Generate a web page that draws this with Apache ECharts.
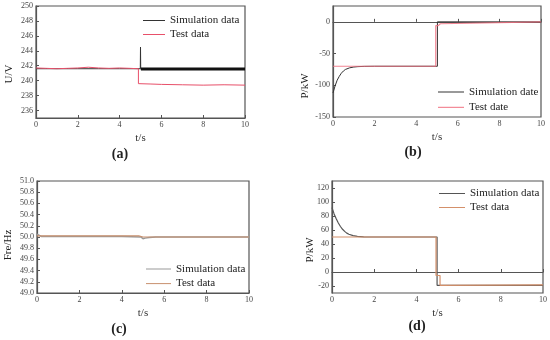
<!DOCTYPE html>
<html>
<head>
<meta charset="utf-8">
<script src="https://cdn.jsdelivr.net/npm/echarts@6/dist/echarts.min.js"></script>
<style>html,body{margin:0;padding:0;background:#fff;}#c{width:550px;height:340px;}</style>
</head>
<body>
<div id="c"></div>
<script>
// ---- Panel (a): voltage ----
const aSimT  = [0, 1, 2, 3, 4, 4.99, 5.0, 5.01, 5.02];
const aSimV  = [241.6, 241.6, 241.6, 241.6, 241.6, 241.6, 244.5, 241.6, 241.5];
const aBandT = [5.02, 10];
const aBandV = [241.55, 241.55];
const aTestT = [0, 0.5, 1, 1.5, 2, 2.5, 3, 3.5, 4, 4.5, 4.9, 4.9, 5.5, 6, 7, 8, 9, 10];
const aTestV = [241.7, 241.65, 241.6, 241.65, 241.7, 241.8, 241.7, 241.65, 241.7, 241.65, 241.6, 239.6, 239.55, 239.5, 239.45, 239.4, 239.45, 239.4];
const aYTicks = [236, 238, 240, 242, 244, 246, 248, 250];

// ---- Panel (b): power ----
const bSimT  = [0, 0.1, 0.2, 0.3, 0.4, 0.5, 0.6, 0.8, 1.0, 1.2, 1.5, 2, 5.02, 5.02, 10];
const bSimV  = [-112, -101, -92, -86, -81, -77.5, -75, -72.5, -71.2, -70.6, -70.2, -70, -70, 0, 0];
const bTestT = [0, 4.94, 4.94, 5.06, 5.06, 5.16, 5.16, 10];
const bTestV = [-70, -70, -6, -6, -3, -3, 0, 0];
const bYTicks = [-150, -100, -50, 0];

// ---- Panel (c): frequency ----
const cSimT  = [0, 0.05, 0.2, 1, 2, 3, 4, 4.9, 5.0, 5.1, 5.3, 5.6, 6, 8, 10];
const cSimV  = [50.05, 50.02, 50.01, 50.01, 50.01, 50.01, 50.01, 50.0, 49.97, 49.98, 49.99, 50.0, 50.0, 50.0, 50.0];
const cTestT = [0, 1, 2, 3, 4, 4.8, 5.0, 5.5, 6, 8, 10];
const cTestV = [50.02, 50.02, 50.02, 50.02, 50.02, 50.02, 50.0, 50.0, 50.0, 50.0, 50.0];
const cYTicks = [49.0, 49.2, 49.4, 49.6, 49.8, 50.0, 50.2, 50.4, 50.6, 50.8, 51.0];

// ---- Panel (d): power ----
const dSimT  = [0, 0.1, 0.2, 0.3, 0.4, 0.5, 0.6, 0.7, 0.8, 1.0, 1.2, 1.5, 2, 4.98, 4.98, 10];
const dSimV  = [92, 83, 76, 70, 65, 61, 58, 55.5, 54, 52, 50.8, 50.2, 50, 50, -19, -19];
const dTestT = [0, 4.93, 4.93, 5.12, 5.12, 10];
const dTestV = [50, 50, -5, -5, -19, -18.5];
const dYTicks = [-20, 0, 20, 40, 60, 80, 100, 120];

const xTicks = [0, 2, 4, 6, 8, 10];

const legendText = {
  aSim: 'Simulation data', aTest: 'Test data',
  bSim: 'Simulation date', bTest: 'Test date',
  cSim: 'Simulation data', cTest: 'Test data',
  dSim: 'Simulation data', dTest: 'Test data'
};

function zip(t, v) { return t.map((x, i) => [x, v[i]]); }

const FONT = 'Liberation Serif';
const AX = '#555';

function xAxis(gi) {
  return {
    type: 'value', gridIndex: gi, min: 0, max: 10, interval: 2,
    name: 't/s', nameLocation: 'middle', nameGap: 15,
    nameTextStyle: { fontFamily: FONT, fontSize: 11, color: '#333' },
    axisLine: { show: true, lineStyle: { color: AX, width: 1.2 } },
    axisTick: { show: true, inside: true, length: 3, lineStyle: { color: AX }, customValues: xTicks },
    axisLabel: { fontFamily: FONT, fontSize: 8, color: '#444', margin: 3, customValues: xTicks },
    splitLine: { show: false }
  };
}
function yAxis(gi, min, max, ticks, fmt) {
  return {
    type: 'value', gridIndex: gi, min: min, max: max,
    axisLine: { show: true, lineStyle: { color: AX, width: 1.2 } },
    axisTick: { show: true, inside: true, length: 3, lineStyle: { color: AX }, customValues: ticks },
    axisLabel: { fontFamily: FONT, fontSize: 8, color: '#444', margin: 3, customValues: ticks,
                 formatter: fmt || (v => String(v)) },
    splitLine: { show: false }
  };
}
function line(name, gi, data, color, width, opacity) {
  return {
    name: name, type: 'line', xAxisIndex: gi, yAxisIndex: gi, data: data,
    symbol: 'none', showSymbol: false, animation: false,
    lineStyle: { color: color, width: width, opacity: opacity == null ? 1 : opacity },
    itemStyle: { color: color }
  };
}
function legend(names, left, top, gap, w) {
  return {
    data: names, orient: 'vertical', left: left, top: top, itemGap: gap, padding: 0,
    itemWidth: w, itemHeight: 1, icon: 'rect',
    textStyle: { fontFamily: FONT, fontSize: 11, color: '#222' },
    formatter: n => legendText[n], selectedMode: false
  };
}
function label(text, x, y, size, bold, rot) {
  return {
    type: 'text', x: x, y: y, rotation: rot || 0,
    style: { text: text, fontFamily: FONT, fontSize: size, fontWeight: bold ? 'bold' : 'normal',
             fill: '#222', align: 'center', verticalAlign: 'middle' }
  };
}

const chart = echarts.init(document.getElementById('c'), null, { renderer: 'canvas' });
chart.setOption({
  animation: false,
  backgroundColor: '#fff',
  grid: [
    { left: 36, top: 6, width: 209, height: 112, show: true, borderColor: AX, borderWidth: 1.2 },
    { left: 333, top: 6, width: 208, height: 111, show: true, borderColor: AX, borderWidth: 1.2 },
    { left: 37, top: 181, width: 212, height: 112, show: true, borderColor: AX, borderWidth: 1.2 },
    { left: 332, top: 181, width: 211, height: 112, show: true, borderColor: AX, borderWidth: 1.2 }
  ],
  xAxis: [xAxis(0), xAxis(1), xAxis(2), xAxis(3)],
  yAxis: [
    yAxis(0, 235, 250, aYTicks),
    yAxis(1, -150, 25, bYTicks),
    yAxis(2, 49, 51, cYTicks, v => v.toFixed(1)),
    yAxis(3, -30, 130, dYTicks)
  ],
  legend: [
    legend(['aSim', 'aTest'], 143, 15, 3, 22),
    legend(['bSim', 'bTest'], 438, 86.5, 4.3, 26),
    legend(['cSim', 'cTest'], 146, 263.5, 3.6, 25),
    legend(['dSim', 'dTest'], 439, 188, 3, 26)
  ],
  series: [
    line('aSim', 0, zip(aSimT, aSimV), '#333', 1),
    line('aBand', 0, zip(aBandT, aBandV), '#111', 3),
    line('aTest', 0, zip(aTestT, aTestV), '#e8506a', 1),
    line('bSim', 1, zip(bSimT, bSimV), '#333', 1),
    line('bTest', 1, zip(bTestT, bTestV), '#f07080', 1.2, 0.85),
    line('cSim', 2, zip(cSimT, cSimV), '#999', 1.5),
    line('cTest', 2, zip(cTestT, cTestV), '#c8906e', 1.2),
    line('dSim', 3, zip(dSimT, dSimV), '#555', 1.2),
    line('dTest', 3, zip(dTestT, dTestV), '#d4906a', 1.2)
  ],
  graphic: [
    label('U/V', 9, 74, 11, false, Math.PI / 2),
    label('P/kW', 305, 86, 11, false, Math.PI / 2),
    label('Fre/Hz', 8, 245, 11, false, Math.PI / 2),
    label('P/kW', 310, 250, 11, false, Math.PI / 2),
    label('(a)', 120, 154, 14, true),
    label('(b)', 413, 152, 14, true),
    label('(c)', 119, 329, 14, true),
    label('(d)', 417, 326, 14, true)
  ]
});
</script>
</body>
</html>
